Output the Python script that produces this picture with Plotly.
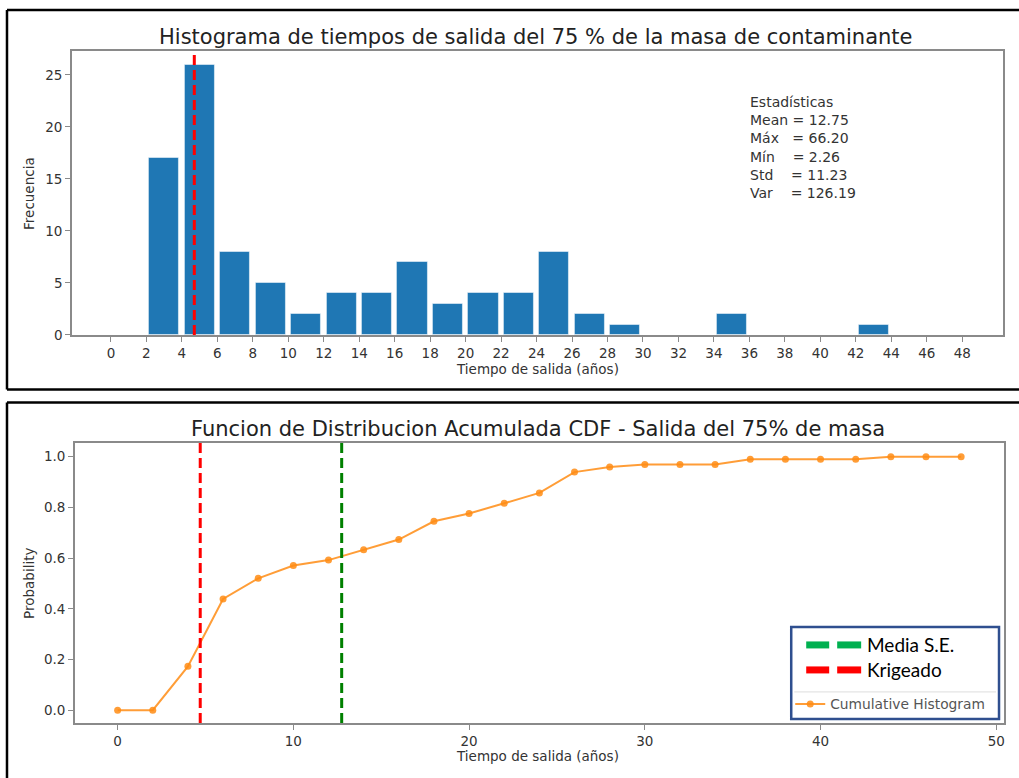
import plotly.graph_objects as go

W, H = 1019, 778
KY = 786 / 778  # compensates the vertical squeeze observed in the captured page

# ---------------- data ----------------
bin_centers = [1, 3, 5, 7, 9, 11, 13, 15, 17, 19, 21, 23, 25, 27, 29, 31, 33, 35, 37, 39, 41, 43, 45, 47]
counts = [0, 17, 26, 8, 5, 2, 4, 4, 7, 3, 4, 4, 8, 2, 1, 0, 0, 2, 0, 0, 0, 1, 0, 0]
hist_ticks = [0, 2, 4, 6, 8, 10, 12, 14, 16, 18, 20, 22, 24, 26, 28, 30, 32, 34, 36, 38, 40, 42, 44, 46, 48]

cdf_x = [0, 2, 4, 6, 8, 10, 12, 14, 16, 18, 20, 22, 24, 26, 28, 30, 32, 34, 36, 38, 40, 42, 44, 46, 48]
cdf_y = [0.0, 0.0, 0.173, 0.439, 0.520, 0.571, 0.592, 0.633, 0.673, 0.745, 0.776, 0.816, 0.857,
         0.939, 0.959, 0.969, 0.969, 0.969, 0.990, 0.990, 0.990, 0.990, 1.0, 1.0, 1.0]

krigeado = 4.7
media_se = 12.75

stats_lines = ["Estadísticas", "Mean = 12.75", "Máx   = 66.20", "Mín    = 2.26", "Std    = 11.23", "Var    = 126.19"]

# ---------------- helpers (reference pixel -> paper) ----------------
def px(x):
    return x / W

def py(y):
    return 1 - (y * KY) / H

FONT = "DejaVu Sans"
AX = "#8a8a8a"
TXT = "#333333"
TICK = 13.5

fig = go.Figure()

fig.add_trace(go.Bar(
    x=bin_centers, y=counts, width=[1.7] * len(counts),
    marker=dict(color="#1f77b4", line=dict(color="rgba(255,255,255,0.5)", width=1)),
    showlegend=False, xaxis="x", yaxis="y", hoverinfo="x+y",
))

fig.add_trace(go.Scatter(
    x=cdf_x, y=cdf_y, mode="lines+markers", name="Cumulative Histogram",
    line=dict(color="rgba(255,140,20,0.85)", width=2),
    marker=dict(color="rgba(255,140,20,0.85)", size=7),
    xaxis="x2", yaxis="y2",
))

shapes = []
# vertical reference lines
shapes.append(dict(type="line", xref="x", yref="y domain", x0=krigeado, x1=krigeado, y0=0, y1=1,
                   line=dict(color="#ff0000", width=3, dash="10px,5px"), layer="above"))
shapes.append(dict(type="line", xref="x2", yref="y2 domain", x0=krigeado, x1=krigeado, y0=0, y1=1,
                   line=dict(color="#ff0000", width=3, dash="10px,5px"), layer="above"))
shapes.append(dict(type="line", xref="x2", yref="y2 domain", x0=media_se, x1=media_se, y0=0, y1=1,
                   line=dict(color="#008000", width=3, dash="10px,5px"), layer="above"))

# panel frames
BW = 2.5
shapes += [
    dict(type="line", xref="paper", yref="paper", x0=px(7), x1=px(1030), y0=py(10), y1=py(10), line=dict(color="black", width=BW)),
    dict(type="line", xref="paper", yref="paper", x0=px(7), x1=px(1030), y0=py(389.5), y1=py(389.5), line=dict(color="black", width=BW)),
    dict(type="line", xref="paper", yref="paper", x0=px(7), x1=px(7), y0=py(10), y1=py(389.5), line=dict(color="black", width=BW)),
    dict(type="line", xref="paper", yref="paper", x0=px(7), x1=px(1030), y0=py(402.5), y1=py(402.5), line=dict(color="black", width=BW)),
    dict(type="line", xref="paper", yref="paper", x0=px(7), x1=px(7), y0=py(402.5), y1=-0.05, line=dict(color="black", width=BW)),
]

# custom legend box
shapes.append(dict(type="rect", xref="paper", yref="paper", x0=px(792), x1=px(1000), y0=py(627), y1=py(719),
                   line=dict(color="#2f4f8f", width=2.5), fillcolor="white", layer="above"))
shapes.append(dict(type="line", xref="paper", yref="paper", x0=px(795), x1=px(997), y0=py(692), y1=py(692),
                   line=dict(color="#dddddd", width=1), layer="above"))
for (yc, col) in [(645, "#00b050"), (670, "#ff0000")]:
    for (a, b) in [(807, 830), (838, 862)]:
        shapes.append(dict(type="rect", xref="paper", yref="paper", x0=px(a), x1=px(b), y0=py(yc + 3.5), y1=py(yc - 3.5),
                           line=dict(width=0), fillcolor=col, layer="above"))

annotations = [
    dict(text="Histograma de tiempos de salida del 75 % de la masa de contaminante", x=px(537), y=py(37),
         xref="paper", yref="paper", showarrow=False, xanchor="center", yanchor="middle",
         font=dict(family=FONT, size=21, color="#222")),
    dict(text="Funcion de Distribucion Acumulada CDF - Salida del 75% de masa", x=px(539), y=py(429),
         xref="paper", yref="paper", showarrow=False, xanchor="center", yanchor="middle",
         font=dict(family=FONT, size=21, color="#222")),
    dict(text="Tiempo de salida (años)", x=px(538), y=py(369), xref="paper", yref="paper", showarrow=False,
         xanchor="center", yanchor="middle", font=dict(family=FONT, size=TICK, color=TXT)),
    dict(text="Tiempo de salida (años)", x=px(538), y=py(756), xref="paper", yref="paper", showarrow=False,
         xanchor="center", yanchor="middle", font=dict(family=FONT, size=TICK, color=TXT)),
    dict(text="Frecuencia", x=px(29), y=py(193), xref="paper", yref="paper", showarrow=False, textangle=-90,
         xanchor="center", yanchor="middle", font=dict(family=FONT, size=TICK, color=TXT)),
    dict(text="Probability", x=px(29), y=py(583), xref="paper", yref="paper", showarrow=False, textangle=-90,
         xanchor="center", yanchor="middle", font=dict(family=FONT, size=TICK, color=TXT)),
    dict(text="<br>".join(s.replace(" ", "\u00a0") for s in stats_lines), x=px(749), y=py(92),
         xref="paper", yref="paper", showarrow=False, xanchor="left", yanchor="top", align="left",
         font=dict(family=FONT, size=14, color=TXT)),
    dict(text="Media S.E.", x=px(866), y=py(645), xref="paper", yref="paper", showarrow=False,
         xanchor="left", yanchor="middle", font=dict(family="Lato", size=19, color="black")),
    dict(text="Krigeado", x=px(866), y=py(670), xref="paper", yref="paper", showarrow=False,
         xanchor="left", yanchor="middle", font=dict(family="Lato", size=19, color="black")),
]

axis_common = dict(showline=True, mirror=True, linecolor=AX, linewidth=1.5, ticks="outside", ticklen=5,
                   tickcolor=AX, tickwidth=1.2, showgrid=False, zeroline=False,
                   tickfont=dict(family=FONT, size=TICK, color=TXT))

fig.update_layout(
    width=W, height=H, margin=dict(l=0, r=0, t=0, b=0),
    paper_bgcolor="white", plot_bgcolor="white",
    xaxis=dict(domain=[px(72), px(1004)], range=[-2.2, 50.3], tickvals=hist_ticks, anchor="y", **axis_common),
    yaxis=dict(domain=[py(335), py(51)], range=[0, 27.3], tickvals=[0, 5, 10, 15, 20, 25], anchor="x", **axis_common),
    xaxis2=dict(domain=[px(75), px(1005)], range=[-2.43, 50.44], tickvals=[0, 10, 20, 30, 40, 50], anchor="y2", **axis_common),
    yaxis2=dict(domain=[py(723), py(443)], range=[-0.05, 1.054], tickvals=[0, 0.2, 0.4, 0.6, 0.8, 1.0],
                tickformat=".1f", anchor="x2", **axis_common),
    shapes=shapes, annotations=annotations,
    legend=dict(x=px(791), y=py(704), xanchor="left", yanchor="middle", bgcolor="rgba(0,0,0,0)",
                borderwidth=0, font=dict(family=FONT, size=13.8, color="#555")),
    bargap=0,
)

fig.write_html("out.html", config={"displayModeBar": False},
               post_script="document.body.style.margin='0px';document.body.style.overflow='hidden';")
